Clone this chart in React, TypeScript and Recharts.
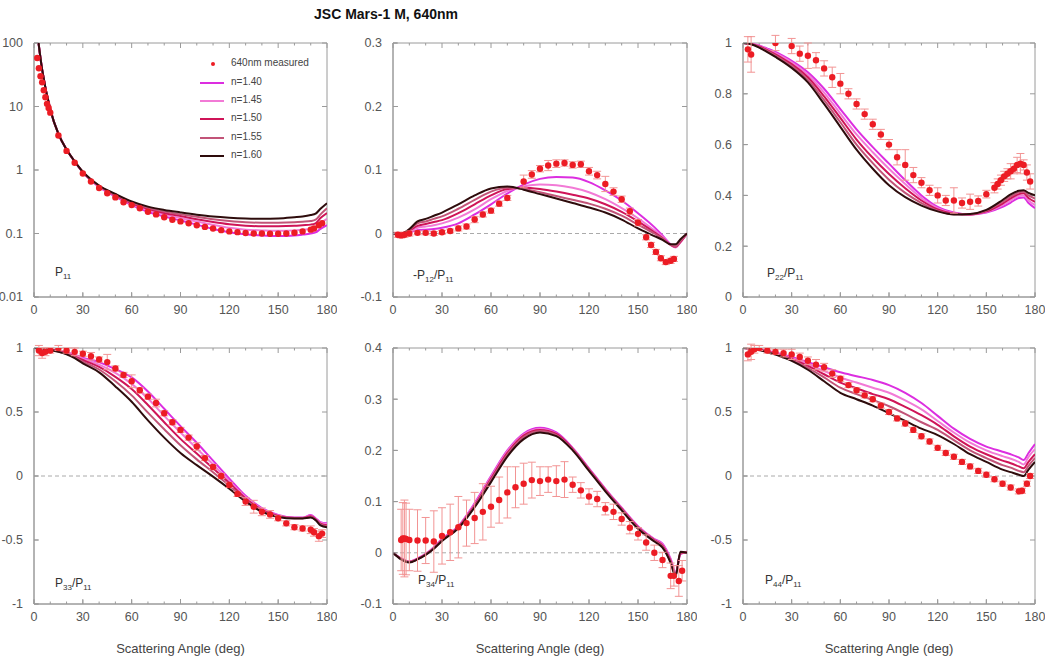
import React from 'react';
import { ComposedChart, Line, Scatter, XAxis, YAxis, ErrorBar, ReferenceLine, ReferenceArea } from 'recharts';

// scattering angles (deg) at which the model curves are tabulated
const modelAngles = [0, 5, 10, 15, 20, 25, 30, 40, 50, 60, 70, 80, 90, 100, 110, 120, 130, 140, 150, 160, 165, 170, 173, 176, 180];
const angleTicks = [0, 30, 60, 90, 120, 150, 180];
const angleMinor = [10, 20, 40, 50, 70, 80, 100, 110, 130, 140, 160, 170];

const refIndex = ['n=1.40', 'n=1.45', 'n=1.50', 'n=1.55', 'n=1.60'];
const lineColors = ['#dc2ee0', '#f27ad6', '#cf1458', '#c25478', '#2e0c0c'];

// P11 (log scale)
const p11_140 = [400, 38, 9, 3.7, 2.1, 1.35, 0.92, 0.54, 0.38, 0.28, 0.22, 0.185, 0.16, 0.138, 0.118, 0.105, 0.097, 0.093, 0.091, 0.093, 0.096, 0.1, 0.104, 0.118, 0.135];
const p11_145 = [400, 38, 9, 3.7, 2.1, 1.35, 0.92, 0.55, 0.39, 0.29, 0.235, 0.2, 0.175, 0.155, 0.137, 0.123, 0.115, 0.112, 0.11, 0.112, 0.115, 0.118, 0.124, 0.145, 0.17];
const p11_150 = [400, 38, 9, 3.7, 2.1, 1.36, 0.93, 0.56, 0.4, 0.3, 0.245, 0.21, 0.188, 0.168, 0.152, 0.14, 0.133, 0.13, 0.13, 0.132, 0.135, 0.138, 0.145, 0.175, 0.21];
const p11_155 = [400, 38, 9, 3.7, 2.1, 1.36, 0.93, 0.56, 0.41, 0.31, 0.255, 0.222, 0.2, 0.183, 0.168, 0.157, 0.15, 0.148, 0.148, 0.15, 0.153, 0.157, 0.165, 0.2, 0.25];
const p11_160 = [400, 38, 9, 3.7, 2.1, 1.37, 0.94, 0.57, 0.42, 0.32, 0.265, 0.235, 0.215, 0.198, 0.185, 0.177, 0.172, 0.17, 0.172, 0.18, 0.185, 0.195, 0.205, 0.245, 0.3];
const p11Measured = [
  [2, 58, 0], [3, 40, 0], [4, 30, 0], [5, 24, 0], [6, 18, 0], [7, 14, 0], [8, 11, 0], [9, 9.5, 0], [10, 8, 0],
  [15, 3.5, 0], [20, 2.0, 0], [25, 1.3, 0], [30, 0.88, 0], [35, 0.66, 0], [40, 0.52, 0], [45, 0.43, 0],
  [50, 0.37, 0], [55, 0.31, 0], [60, 0.28, 0], [65, 0.25, 0], [70, 0.22, 0], [75, 0.2, 0], [80, 0.18, 0],
  [85, 0.165, 0], [90, 0.155, 0], [95, 0.145, 0], [100, 0.135, 0], [105, 0.127, 0], [110, 0.12, 0],
  [115, 0.113, 0], [120, 0.108, 0], [125, 0.105, 0], [130, 0.102, 0], [135, 0.1, 0], [140, 0.1, 0],
  [145, 0.099, 0], [150, 0.099, 0], [155, 0.1, 0], [160, 0.103, 0], [165, 0.108, 0], [170, 0.115, 0],
  [172, 0.12, 0], [175, 0.135, 0], [177, 0.145, 0],
];

// -P12/P11
const p12_140 = [0, 0.0, 0.002, 0.005, 0.006, 0.007, 0.009, 0.016, 0.03, 0.046, 0.063, 0.077, 0.086, 0.089, 0.088, 0.081, 0.068, 0.052, 0.032, 0.01, -0.003, -0.017, -0.021, -0.013, 0];
const p12_145 = [0, 0.0, 0.004, 0.009, 0.011, 0.013, 0.016, 0.025, 0.038, 0.054, 0.067, 0.074, 0.077, 0.076, 0.072, 0.065, 0.054, 0.04, 0.024, 0.005, -0.005, -0.018, -0.022, -0.014, 0];
const p12_150 = [0, 0.0, 0.005, 0.012, 0.015, 0.018, 0.021, 0.032, 0.046, 0.06, 0.07, 0.072, 0.07, 0.066, 0.061, 0.055, 0.046, 0.034, 0.019, 0.002, -0.007, -0.018, -0.021, -0.013, 0];
const p12_155 = [0, 0.0, 0.006, 0.016, 0.019, 0.023, 0.027, 0.039, 0.053, 0.066, 0.072, 0.07, 0.065, 0.059, 0.053, 0.047, 0.039, 0.028, 0.014, 0.0, -0.008, -0.018, -0.02, -0.012, 0];
const p12_160 = [0, 0.0, 0.007, 0.019, 0.023, 0.028, 0.033, 0.046, 0.06, 0.071, 0.074, 0.069, 0.062, 0.055, 0.048, 0.041, 0.033, 0.022, 0.008, -0.004, -0.01, -0.017, -0.017, -0.009, 0];
const p12Measured = [
  [3, -0.002, 0.004], [5, -0.003, 0.004], [7, -0.002, 0.004], [10, 0.0, 0.004], [15, 0.001, 0.003],
  [20, 0.001, 0.003], [25, 0.0, 0.003], [30, 0.002, 0.003], [35, 0.004, 0.003], [40, 0.008, 0.004],
  [45, 0.011, 0.004], [50, 0.022, 0.005], [55, 0.03, 0.004], [60, 0.036, 0.004], [65, 0.047, 0.004],
  [70, 0.056, 0.004], [80, 0.082, 0.01], [85, 0.093, 0.006], [90, 0.102, 0.005], [95, 0.107, 0.008],
  [100, 0.11, 0.006], [105, 0.111, 0.005], [110, 0.108, 0.005], [115, 0.109, 0.005], [120, 0.098, 0.006],
  [125, 0.092, 0.006], [130, 0.078, 0.012], [135, 0.066, 0.006], [140, 0.054, 0.005], [145, 0.035, 0.005],
  [150, 0.017, 0.005], [155, -0.006, 0.004], [158, -0.018, 0.004], [161, -0.029, 0.004], [164, -0.039, 0.004],
  [167, -0.045, 0.004], [170, -0.043, 0.004], [172, -0.04, 0.004],
];

// P22/P11
const p22_140 = [1, 0.997, 0.99, 0.978, 0.965, 0.948, 0.93, 0.885, 0.82, 0.74, 0.66, 0.59, 0.525, 0.46, 0.4, 0.355, 0.333, 0.325, 0.333, 0.355, 0.372, 0.39, 0.392, 0.37, 0.35];
const p22_145 = [1, 0.997, 0.988, 0.975, 0.96, 0.943, 0.924, 0.875, 0.805, 0.722, 0.64, 0.57, 0.505, 0.445, 0.39, 0.35, 0.33, 0.325, 0.335, 0.362, 0.38, 0.398, 0.4, 0.38, 0.362];
const p22_150 = [1, 0.996, 0.986, 0.972, 0.955, 0.937, 0.917, 0.865, 0.79, 0.705, 0.62, 0.548, 0.484, 0.428, 0.38, 0.345, 0.328, 0.325, 0.337, 0.368, 0.388, 0.405, 0.408, 0.39, 0.375];
const p22_155 = [1, 0.996, 0.984, 0.968, 0.95, 0.931, 0.91, 0.855, 0.775, 0.688, 0.6, 0.527, 0.462, 0.41, 0.37, 0.34, 0.326, 0.326, 0.34, 0.375, 0.396, 0.412, 0.415, 0.4, 0.388];
const p22_160 = [1, 0.995, 0.982, 0.964, 0.945, 0.925, 0.902, 0.845, 0.76, 0.67, 0.58, 0.505, 0.44, 0.393, 0.36, 0.337, 0.325, 0.327, 0.343, 0.382, 0.404, 0.418, 0.42, 0.41, 0.4];
const p22Measured = [
  [3, 0.975, 0.05], [5, 0.955, 0.07], [20, 1.0, 0.03], [30, 0.988, 0.03], [35, 0.958, 0.03], [40, 0.95, 0.05],
  [45, 0.932, 0.03], [50, 0.9, 0.03], [55, 0.865, 0.04], [60, 0.84, 0.04], [65, 0.8, 0.02], [70, 0.76, 0.02],
  [75, 0.72, 0.02], [80, 0.68, 0.02], [85, 0.64, 0.02], [90, 0.6, 0.02], [95, 0.55, 0.03], [100, 0.52, 0.06],
  [105, 0.48, 0.03], [110, 0.45, 0.02], [115, 0.42, 0.02], [120, 0.4, 0.03], [125, 0.38, 0.02], [130, 0.38, 0.05],
  [135, 0.37, 0.02], [140, 0.375, 0.03], [145, 0.378, 0.02], [150, 0.405, 0.015], [155, 0.43, 0.02],
  [157, 0.445, 0.02], [159, 0.46, 0.02], [161, 0.475, 0.02], [163, 0.485, 0.02], [165, 0.495, 0.03],
  [167, 0.505, 0.02], [169, 0.52, 0.03], [171, 0.525, 0.04], [173, 0.52, 0.02], [175, 0.49, 0.03], [177, 0.455, 0.03],
];

// P33/P11
const p33_140 = [1, 0.998, 0.99, 0.98, 0.965, 0.948, 0.925, 0.89, 0.835, 0.77, 0.66, 0.525, 0.39, 0.26, 0.12, -0.02, -0.155, -0.25, -0.305, -0.325, -0.325, -0.305, -0.33, -0.36, -0.37];
const p33_145 = [1, 0.998, 0.989, 0.978, 0.962, 0.942, 0.916, 0.87, 0.805, 0.72, 0.605, 0.47, 0.34, 0.215, 0.09, -0.04, -0.165, -0.257, -0.308, -0.327, -0.327, -0.31, -0.335, -0.365, -0.377];
const p33_150 = [1, 0.997, 0.988, 0.976, 0.958, 0.935, 0.906, 0.852, 0.775, 0.68, 0.555, 0.42, 0.29, 0.175, 0.06, -0.055, -0.175, -0.264, -0.312, -0.328, -0.328, -0.315, -0.338, -0.372, -0.385];
const p33_155 = [1, 0.997, 0.986, 0.973, 0.954, 0.928, 0.894, 0.832, 0.74, 0.63, 0.495, 0.365, 0.24, 0.13, 0.03, -0.075, -0.188, -0.272, -0.316, -0.33, -0.33, -0.32, -0.342, -0.378, -0.392];
const p33_160 = [1, 0.997, 0.985, 0.97, 0.95, 0.92, 0.88, 0.81, 0.7, 0.58, 0.435, 0.3, 0.18, 0.085, -0.005, -0.1, -0.2, -0.28, -0.32, -0.332, -0.332, -0.325, -0.345, -0.385, -0.4];
const p33Measured = [
  [3, 0.98, 0.04], [5, 0.96, 0.04], [7, 0.97, 0.03], [10, 0.98, 0.02], [15, 1.0, 0.02], [20, 0.98, 0.02],
  [25, 0.97, 0.03], [30, 0.955, 0.02], [35, 0.935, 0.03], [40, 0.91, 0.02], [45, 0.89, 0.06], [50, 0.84, 0.02],
  [55, 0.79, 0.02], [60, 0.74, 0.05], [65, 0.67, 0.02], [70, 0.62, 0.02], [75, 0.57, 0.03], [80, 0.49, 0.02],
  [85, 0.42, 0.02], [90, 0.36, 0.02], [95, 0.3, 0.02], [100, 0.23, 0.03], [105, 0.14, 0.02], [110, 0.07, 0.02],
  [115, 0.0, 0.02], [120, -0.07, 0.02], [125, -0.14, 0.02], [130, -0.2, 0.03], [135, -0.24, 0.05],
  [140, -0.28, 0.03], [145, -0.3, 0.03], [150, -0.33, 0.02], [155, -0.37, 0.02], [160, -0.4, 0.02],
  [165, -0.41, 0.02], [170, -0.42, 0.03], [172, -0.44, 0.03], [175, -0.47, 0.04], [177, -0.45, 0.03],
];

// P34/P11
const p34_140 = [0, -0.011, -0.017, -0.011, -0.002, 0.011, 0.027, 0.052, 0.097, 0.15, 0.2, 0.233, 0.244, 0.235, 0.205, 0.165, 0.125, 0.088, 0.052, 0.027, 0.018, -0.012, -0.038, -0.003, 0.002];
const p34_145 = [0, -0.011, -0.017, -0.012, -0.002, 0.01, 0.026, 0.051, 0.095, 0.148, 0.198, 0.231, 0.242, 0.233, 0.204, 0.164, 0.124, 0.087, 0.051, 0.026, 0.016, -0.014, -0.04, -0.002, 0.002];
const p34_150 = [0, -0.012, -0.018, -0.012, -0.003, 0.009, 0.025, 0.05, 0.093, 0.145, 0.195, 0.229, 0.24, 0.232, 0.203, 0.163, 0.123, 0.086, 0.05, 0.025, 0.014, -0.016, -0.042, -0.001, 0.001];
const p34_155 = [0, -0.012, -0.018, -0.013, -0.003, 0.009, 0.024, 0.049, 0.091, 0.142, 0.192, 0.226, 0.238, 0.23, 0.202, 0.162, 0.122, 0.085, 0.049, 0.024, 0.012, -0.018, -0.044, 0.0, 0.001];
const p34_160 = [0, -0.013, -0.019, -0.013, -0.004, 0.008, 0.023, 0.048, 0.089, 0.138, 0.188, 0.222, 0.235, 0.228, 0.2, 0.16, 0.12, 0.083, 0.047, 0.022, 0.01, -0.02, -0.046, 0.002, 0.0];
const p34Measured = [
  [5, 0.025, 0.06], [6, 0.028, 0.07], [7, 0.028, 0.075], [8, 0.027, 0.07], [10, 0.025, 0.06], [15, 0.024, 0.06],
  [20, 0.024, 0.045], [25, 0.022, 0.06], [30, 0.033, 0.055], [35, 0.04, 0.055], [40, 0.05, 0.06], [45, 0.058, 0.045],
  [50, 0.068, 0.05], [55, 0.08, 0.055], [60, 0.09, 0.04], [65, 0.103, 0.045], [70, 0.118, 0.05], [75, 0.128, 0.04],
  [80, 0.135, 0.04], [85, 0.142, 0.035], [90, 0.14, 0.028], [95, 0.143, 0.025], [100, 0.14, 0.03], [105, 0.143, 0.035],
  [110, 0.133, 0.015], [115, 0.122, 0.015], [120, 0.11, 0.015], [125, 0.105, 0.015], [130, 0.086, 0.012],
  [135, 0.08, 0.015], [140, 0.066, 0.012], [145, 0.049, 0.012], [150, 0.037, 0.012], [155, 0.02, 0.015],
  [160, 0.0, 0.015], [165, -0.014, 0.015], [170, -0.045, 0.025], [172, -0.045, 0.02], [175, -0.055, 0.03], [177, -0.035, 0.02],
];

// P44/P11
const p44_140 = [1, 0.997, 0.99, 0.978, 0.965, 0.948, 0.93, 0.89, 0.85, 0.81, 0.78, 0.75, 0.71, 0.65, 0.57, 0.47, 0.37, 0.29, 0.23, 0.19, 0.17, 0.145, 0.125, 0.18, 0.25];
const p44_145 = [1, 0.997, 0.989, 0.975, 0.96, 0.942, 0.922, 0.875, 0.82, 0.77, 0.73, 0.69, 0.65, 0.59, 0.52, 0.43, 0.34, 0.26, 0.2, 0.155, 0.135, 0.11, 0.09, 0.15, 0.21];
const p44_150 = [1, 0.996, 0.988, 0.972, 0.956, 0.936, 0.915, 0.86, 0.795, 0.73, 0.685, 0.64, 0.6, 0.54, 0.475, 0.4, 0.31, 0.23, 0.17, 0.12, 0.1, 0.075, 0.06, 0.11, 0.17];
const p44_155 = [1, 0.996, 0.986, 0.969, 0.952, 0.93, 0.907, 0.845, 0.77, 0.69, 0.64, 0.595, 0.545, 0.485, 0.42, 0.36, 0.28, 0.2, 0.14, 0.085, 0.065, 0.04, 0.03, 0.08, 0.14];
const p44_160 = [1, 0.995, 0.985, 0.966, 0.948, 0.925, 0.9, 0.83, 0.74, 0.65, 0.6, 0.55, 0.49, 0.43, 0.37, 0.32, 0.25, 0.17, 0.11, 0.05, 0.03, 0.01, 0.0, 0.05, 0.11];
const p44Measured = [
  [3, 0.95, 0.05], [5, 0.97, 0.06], [7, 0.99, 0.03], [10, 1.0, 0.02], [15, 0.98, 0.02], [20, 0.97, 0.02],
  [25, 0.96, 0.03], [30, 0.95, 0.04], [35, 0.93, 0.03], [40, 0.9, 0.03], [45, 0.87, 0.04], [50, 0.85, 0.03],
  [55, 0.8, 0.03], [60, 0.76, 0.02], [65, 0.71, 0.02], [70, 0.67, 0.02], [75, 0.63, 0.02], [80, 0.6, 0.02],
  [85, 0.55, 0.02], [90, 0.5, 0.02], [95, 0.45, 0.02], [100, 0.41, 0.02], [105, 0.36, 0.02], [110, 0.31, 0.02],
  [115, 0.27, 0.02], [120, 0.22, 0.02], [125, 0.18, 0.02], [130, 0.15, 0.02], [135, 0.11, 0.02], [140, 0.075, 0.02],
  [145, 0.04, 0.02], [150, 0.01, 0.02], [155, -0.025, 0.02], [160, -0.06, 0.02], [165, -0.09, 0.02],
  [170, -0.12, 0.02], [172, -0.115, 0.02], [175, -0.06, 0.02], [177, 0.0, 0.02],
];

const FONT = '"Liberation Sans", Arial, Helvetica, sans-serif';
const FRAME = '#9a9a9a';
const TICK = { fill: '#555', fontSize: 12.5, fontFamily: FONT };

const toCurve = (vals: number[]) => modelAngles.map((a, i) => ({ a, v: vals[i] }));
const toPoints = (rows: number[][]) => rows.map(([a, v, e]) => ({ a, v, e }));

const dot = (p: any) => <circle cx={p.cx} cy={p.cy} r={3.2} fill="#ec1c24" />;

type PanelProps = {
  left: number;
  top: number;
  w: number;
  h: number;
  domain: [number, number];
  ticks: number[];
  log?: boolean;
  zero?: boolean;
  errors?: boolean;
  models: number[][];
  measured: number[][];
};

// inward tick marks on all four sides of the frame, as short segments in data units
const frameTicks = (w: number, h: number, domain: [number, number], ticks: number[], log?: boolean) => {
  const [y0, y1] = domain;
  const upFrom = (px: number) => (log ? y0 * Math.pow(y1 / y0, px / h) : y0 + ((y1 - y0) * px) / h);
  const downFrom = (px: number) => (log ? y1 / Math.pow(y1 / y0, px / h) : y1 - ((y1 - y0) * px) / h);
  const dx = (px: number) => (180 * px) / w;
  const segs: { x: number; y: number }[][] = [];
  angleTicks.forEach((t) => {
    segs.push([{ x: t, y: y0 }, { x: t, y: upFrom(5) }]);
    segs.push([{ x: t, y: y1 }, { x: t, y: downFrom(5) }]);
  });
  angleMinor.forEach((t) => {
    segs.push([{ x: t, y: y0 }, { x: t, y: upFrom(2.5) }]);
    segs.push([{ x: t, y: y1 }, { x: t, y: downFrom(2.5) }]);
  });
  ticks.forEach((t) => {
    segs.push([{ x: 0, y: t }, { x: dx(5), y: t }]);
    segs.push([{ x: 180, y: t }, { x: 180 - dx(5), y: t }]);
  });
  return segs;
};

const Panel = ({ left, top, w, h, domain, ticks, log, zero, errors, models, measured }: PanelProps) => (
  <div style={{ position: 'absolute', left: left - 34, top: top - 10 }}>
    <ComposedChart width={w + 44} height={h + 40} margin={{ top: 10, right: 10, bottom: 0, left: 0 }}>
      <XAxis
        dataKey="a"
        type="number"
        domain={[0, 180]}
        ticks={angleTicks}
        allowDataOverflow
        height={30}
        tickSize={-4}
        tickMargin={12}
        axisLine={{ stroke: FRAME }}
        tickLine={{ stroke: FRAME }}
        tick={TICK}
      />
      <YAxis
        dataKey="v"
        type="number"
        scale={log ? 'log' : 'linear'}
        domain={domain}
        ticks={ticks}
        allowDataOverflow
        width={34}
        tickSize={-4}
        tickMargin={15}
        axisLine={{ stroke: FRAME }}
        tickLine={{ stroke: FRAME }}
        tick={TICK}
        interval={0}
      />
      {/* plot frame */}
      <ReferenceArea x1={0} x2={180} y1={domain[0]} y2={domain[1]} fill="none" stroke={FRAME} strokeWidth={1} ifOverflow="visible" />
      {frameTicks(w, h, domain, ticks, log).map((s, i) => (
        <ReferenceLine key={`t${i}`} segment={s} stroke={FRAME} strokeWidth={1} ifOverflow="visible" />
      ))}
      {zero && <ReferenceLine y={0} stroke="#aaa" strokeDasharray="4 3" />}
      {models.map((m, i) => (
        <Line
          key={refIndex[i]}
          data={toCurve(m)}
          dataKey="v"
          type="monotone"
          stroke={lineColors[i]}
          strokeWidth={2}
          dot={false}
          isAnimationActive={false}
        />
      ))}
      <Scatter data={toPoints(measured)} dataKey="v" shape={dot} isAnimationActive={false}>
        {errors && <ErrorBar dataKey="e" direction="y" width={4} strokeWidth={1} stroke="#f29494" />}
      </Scatter>
    </ComposedChart>
  </div>
);

const Ratio = ({ left, top, num, minus }: { left: number; top: number; num?: string; minus?: boolean }) => (
  <div style={{ position: 'absolute', left, top, fontFamily: FONT, fontSize: 12, color: '#333', whiteSpace: 'nowrap' }}>
    {minus ? '-' : ''}P<span style={{ fontSize: 8, position: 'relative', top: 3 }}>{num ?? '11'}</span>
    {num && (
      <>
        /P<span style={{ fontSize: 8, position: 'relative', top: 3 }}>11</span>
      </>
    )}
  </div>
);

const legendRows = [64, 82.5, 101, 119, 137.5, 156];

const App = () => (
  <div style={{ position: 'absolute', left: 0, top: 0, width: 1047, height: 659, background: '#fff', fontFamily: FONT }}>
    <div style={{ position: 'absolute', left: 0, width: 772, top: 6, textAlign: 'center', fontSize: 14, fontWeight: 'bold', color: '#111' }}>
      JSC Mars-1 M, 640nm
    </div>

    <Panel left={34} top={43} w={293} h={254} domain={[0.01, 100]} ticks={[0.01, 0.1, 1, 10, 100]} log
      models={[p11_140, p11_145, p11_150, p11_155, p11_160]} measured={p11Measured} />
    <Panel left={393} top={43} w={294} h={254} domain={[-0.1, 0.3]} ticks={[-0.1, 0, 0.1, 0.2, 0.3]} zero errors
      models={[p12_140, p12_145, p12_150, p12_155, p12_160]} measured={p12Measured} />
    <Panel left={743} top={43} w={292} h={254} domain={[0, 1]} ticks={[0, 0.2, 0.4, 0.6, 0.8, 1]} errors
      models={[p22_140, p22_145, p22_150, p22_155, p22_160]} measured={p22Measured} />
    <Panel left={34} top={348} w={293} h={256} domain={[-1, 1]} ticks={[-1, -0.5, 0, 0.5, 1]} zero errors
      models={[p33_140, p33_145, p33_150, p33_155, p33_160]} measured={p33Measured} />
    <Panel left={393} top={348} w={294} h={256} domain={[-0.1, 0.4]} ticks={[-0.1, 0, 0.1, 0.2, 0.3, 0.4]} zero errors
      models={[p34_140, p34_145, p34_150, p34_155, p34_160]} measured={p34Measured} />
    <Panel left={743} top={348} w={292} h={256} domain={[-1, 1]} ticks={[-1, -0.5, 0, 0.5, 1]} zero errors
      models={[p44_140, p44_145, p44_150, p44_155, p44_160]} measured={p44Measured} />

    <Ratio left={55} top={265} />
    <Ratio left={413} top={268} num="12" minus />
    <Ratio left={767} top={266} num="22" />
    <Ratio left={55} top={576} num="33" />
    <Ratio left={418} top={573} num="34" />
    <Ratio left={765} top={573} num="44" />

    {/* legend inside the P11 panel */}
    <div style={{ position: 'absolute', left: 211, top: legendRows[0] - 2, width: 4, height: 4, borderRadius: 2, background: '#ec1c24' }} />
    <div style={{ position: 'absolute', left: 231, top: legendRows[0] - 7, fontSize: 10, color: '#444' }}>640nm measured</div>
    {refIndex.map((name, i) => (
      <React.Fragment key={name}>
        <div style={{ position: 'absolute', left: 200, top: legendRows[i + 1] - 1, width: 24, height: 2, background: lineColors[i] }} />
        <div style={{ position: 'absolute', left: 231, top: legendRows[i + 1] - 7, fontSize: 10, color: '#444' }}>{name}</div>
      </React.Fragment>
    ))}

    {[180.5, 540, 889].map((cx) => (
      <div key={cx} style={{ position: 'absolute', left: cx - 100, width: 200, top: 641, textAlign: 'center', fontSize: 13, color: '#444' }}>
        Scattering Angle (deg)
      </div>
    ))}
  </div>
);

export default App;
